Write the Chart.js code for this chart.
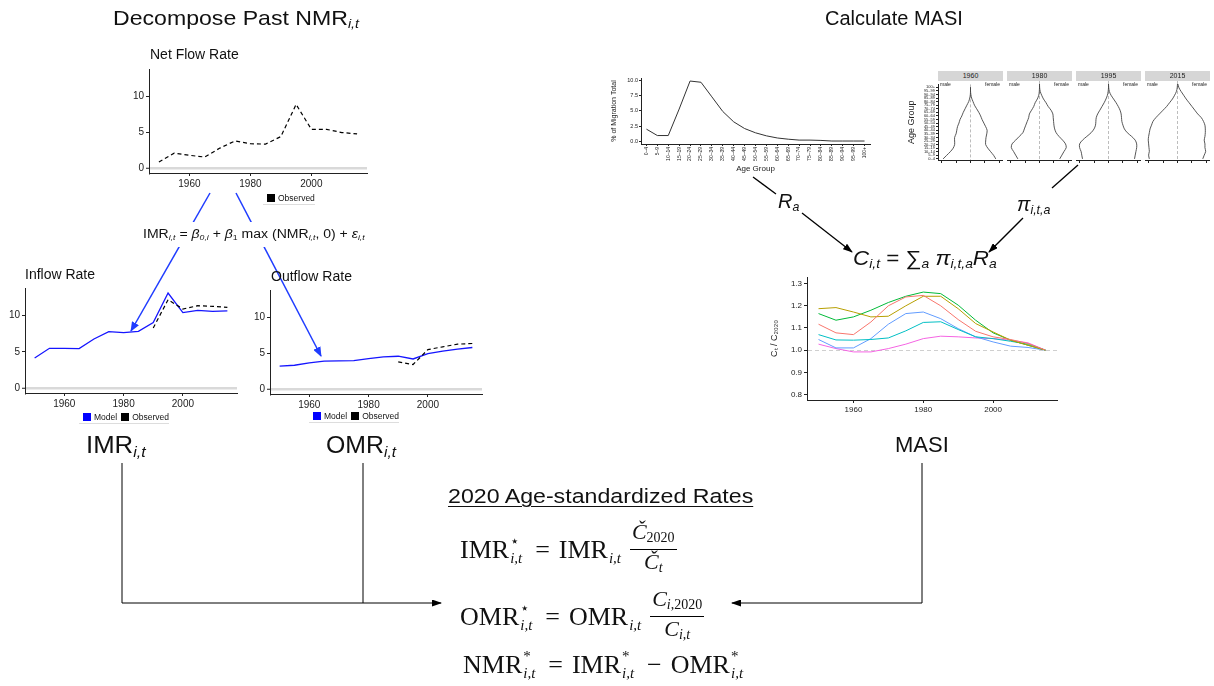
<!DOCTYPE html>
<html lang="en">
<head>
<meta charset="UTF-8">
<title>Age-standardized Migration Rates</title>
<script src="https://cdn.jsdelivr.net/npm/chart.js"></script>
<style>
  body { margin: 0; background: #fff; }
  #page { position: relative; width: 1214px; height: 686px; overflow: hidden; background: #fff;
          font-family: "Liberation Sans", Arial, sans-serif; color: #111; }
  canvas { position: absolute; }
  .t { position: absolute; white-space: nowrap; line-height: 1; transform-origin: 0 50%; }
  .t sub, .ce sub { font-size: 0.62em; font-style: italic; vertical-align: -0.25em; line-height: 0; }
  .lg { position: absolute; font-size: 8.5px; line-height: 10px; white-space: nowrap; border-bottom: 1px solid #ddd; padding-bottom: 1px; }
  .sq { display: inline-block; width: 8px; height: 8px; vertical-align: -1px; margin: 0 3px 0 4px; }
  .strip { position: absolute; background: #d6d6d6; font-size: 7px; line-height: 10px; text-align: center; color: #222; }
  .sex { position: absolute; font-size: 5px; line-height: 5px; color: #222; }
  .ce { position: absolute; white-space: nowrap; font-size: 20px; line-height: 1; transform-origin: 0 50%; }
  .eq { position: absolute; display: flex; align-items: center; white-space: nowrap;
        font-family: "Liberation Serif", "Times New Roman", serif; font-size: 26px; line-height: 1; }
  .ss { display: inline-block; position: relative; width: 20px; height: 26px; font-size: 15px; font-style: italic; }
  .ss .up { position: absolute; left: 1px; top: -3px; font-style: normal; }
  .ss .dn { position: absolute; left: 1px; top: 14px; }
  .op { margin: 0 9px 0 6px; }
  .frac { display: inline-flex; flex-direction: column; align-items: center; font-size: 22px; margin-left: 2px; }
  .frac > span { line-height: 23px; padding: 0 2px; }
  .frac > span:first-child { border-bottom: 1px solid #000; }
  .lo { font-size: 14px; vertical-align: -3px; }
  #eqbox { position: absolute; left: 138px; top: 222px; width: 236px; height: 25px; background: #fff; }
</style>
</head>
<body>
<div id="page">
  <canvas id="netChart"></canvas>
  <canvas id="inChart"></canvas>
  <canvas id="outChart"></canvas>
  <canvas id="ageChart"></canvas>
  <canvas id="pyr0"></canvas>
  <canvas id="pyr1"></canvas>
  <canvas id="pyr2"></canvas>
  <canvas id="pyr3"></canvas>
  <canvas id="masiChart"></canvas>

  <svg width="1214" height="686" style="position:absolute;left:0;top:0">
    <defs>
      <marker id="hb" markerWidth="10" markerHeight="8" refX="9" refY="4" orient="auto" markerUnits="userSpaceOnUse">
        <path d="M0,0 L10,4 L0,8 z" fill="#1f3cff"/>
      </marker>
      <marker id="hk" markerWidth="10" markerHeight="7" refX="9" refY="3.5" orient="auto" markerUnits="userSpaceOnUse">
        <path d="M0,0 L10,3.5 L0,7 z" fill="#000"/>
      </marker>
    </defs>
    <line x1="210" y1="193" x2="131" y2="331" stroke="#1f3cff" stroke-width="1.5" marker-end="url(#hb)"/>
    <line x1="236" y1="193" x2="321" y2="356" stroke="#1f3cff" stroke-width="1.5" marker-end="url(#hb)"/>
    <line x1="753" y1="177" x2="776" y2="194" stroke="#000" stroke-width="1.3"/>
    <line x1="802" y1="213" x2="852" y2="252" stroke="#000" stroke-width="1.3" marker-end="url(#hk)"/>
    <line x1="1078" y1="165" x2="1052" y2="188" stroke="#000" stroke-width="1.3"/>
    <line x1="1023" y1="218" x2="989" y2="252" stroke="#000" stroke-width="1.3" marker-end="url(#hk)"/>
    <path d="M122,463 V603 H441" fill="none" stroke="#000" stroke-width="1" marker-end="url(#hk)"/>
    <path d="M363,463 V603" fill="none" stroke="#000" stroke-width="1"/>
    <path d="M922,463 V603 H732" fill="none" stroke="#000" stroke-width="1" marker-end="url(#hk)"/>
  </svg>

  <div class="t" style="left:113px;top:7px;font-size:21px;transform:scaleX(1.1)">Decompose Past NMR<sub>i,t</sub></div>
  <div class="t" style="left:825px;top:8px;font-size:20px">Calculate MASI</div>

  <div class="t" style="left:150px;top:47px;font-size:14px">Net Flow Rate</div>
  <div class="t" style="left:25px;top:267px;font-size:14px">Inflow Rate</div>
  <div class="t" style="left:271px;top:269px;font-size:14px">Outflow Rate</div>

  <div class="lg" style="left:263px;top:193px"><span class="sq" style="background:#000"></span>Observed</div>
  <div class="lg" style="left:79px;top:412px"><span class="sq" style="background:#0000ff"></span>Model<span class="sq" style="background:#000"></span>Observed</div>
  <div class="lg" style="left:309px;top:411px"><span class="sq" style="background:#0000ff"></span>Model<span class="sq" style="background:#000"></span>Observed</div>

  <div id="eqbox"></div>
  <div class="t" style="left:143px;top:228px;font-size:12px;transform:scaleX(1.17)">IMR<sub>i,t</sub> = <i>β</i><sub>0,i</sub> + <i>β</i><sub style="font-style:normal">1</sub> max (NMR<sub>i,t</sub>, 0) + <i>ε</i><sub>i,t</sub></div>

  <div class="t" style="left:86px;top:434px;font-size:23px;transform:scaleX(1.12)">IMR<sub>i,t</sub></div>
  <div class="t" style="left:326px;top:434px;font-size:23px;transform:scaleX(1.08)">OMR<sub>i,t</sub></div>
  <div class="t" style="left:895px;top:434px;font-size:22px">MASI</div>

  <div class="strip" style="left:938px;top:71px;width:65px">1960</div>
  <div class="strip" style="left:1007px;top:71px;width:65px">1980</div>
  <div class="strip" style="left:1076px;top:71px;width:65px">1995</div>
  <div class="strip" style="left:1145px;top:71px;width:65px">2015</div>
  <div class="sex" style="left:940px;top:82px">male</div><div class="sex" style="left:985px;top:82px">female</div>
  <div class="sex" style="left:1009px;top:82px">male</div><div class="sex" style="left:1054px;top:82px">female</div>
  <div class="sex" style="left:1078px;top:82px">male</div><div class="sex" style="left:1123px;top:82px">female</div>
  <div class="sex" style="left:1147px;top:82px">male</div><div class="sex" style="left:1192px;top:82px">female</div>

  <div class="ce" style="left:778px;top:191px"><i>R</i><sub>a</sub></div>
  <div class="ce" style="left:1017px;top:194px"><i>π</i><sub>i,t,a</sub></div>
  <div class="ce" style="left:853px;top:248px;transform:scaleX(1.12)"><i>C</i><sub>i,t</sub> = ∑<sub>a</sub> <i>π</i><sub>i,t,a</sub><i>R</i><sub>a</sub></div>

  <div class="t" style="left:448px;top:486px;font-size:20.5px;transform:scaleX(1.13);text-decoration:underline;text-underline-offset:3px;text-decoration-thickness:1px">2020 Age-standardized Rates</div>

  <div class="eq" style="left:460px;top:520px">
    <span>IMR</span><span class="ss"><span class="up">⋆</span><span class="dn">i,t</span></span>
    <span class="op">=</span>
    <span>IMR</span><span class="ss"><span class="dn">i,t</span></span>
    <span class="frac"><span><i>Č</i><span class="lo">2020</span></span><span><i>Č</i><span class="lo"><i>t</i></span></span></span>
  </div>
  <div class="eq" style="left:460px;top:587px">
    <span>OMR</span><span class="ss"><span class="up">⋆</span><span class="dn">i,t</span></span>
    <span class="op">=</span>
    <span>OMR</span><span class="ss"><span class="dn">i,t</span></span>
    <span class="frac"><span><i>C</i><span class="lo"><i>i</i>,2020</span></span><span><i>C</i><span class="lo"><i>i,t</i></span></span></span>
  </div>
  <div class="eq" style="left:463px;top:652px">
    <span>NMR</span><span class="ss"><span class="up">*</span><span class="dn">i,t</span></span>
    <span class="op">=</span>
    <span>IMR</span><span class="ss"><span class="up">*</span><span class="dn">i,t</span></span>
    <span class="op">−</span>
    <span>OMR</span><span class="ss"><span class="up">*</span><span class="dn">i,t</span></span>
  </div>
</div>

<script>
// ---- data ----
const years = [1950, 1955, 1960, 1965, 1970, 1975, 1980, 1985, 1990, 1995, 2000, 2005, 2010, 2015];
const yearTicks = [1960, 1980, 2000];
const rateTicks = [0, 5, 10];

const netObserved = [0.87, 2.1, 1.8, 1.56, 2.8, 3.8, 3.4, 3.35, 4.4, 8.85, 5.4, 5.4, 4.95, 4.77];
const inflowModel = [4.15, 5.48, 5.48, 5.43, 6.76, 7.76, 7.63, 7.8, 9.0, 13.06, 10.37, 10.68, 10.55, 10.6];
const inflowObserved = [null, null, null, null, null, null, null, null, 8.26, 12.15, 10.87, 11.32, 11.23, 11.1];
const outflowModel = [3.2, 3.33, 3.66, 3.9, 3.93, 3.98, 4.26, 4.5, 4.58, 4.2, 4.95, 5.28, 5.55, 5.79];
const outflowObserved = [null, null, null, null, null, null, null, null, 3.8, 3.43, 5.5, 5.88, 6.25, 6.34];

const ageGroups = ['0–4', '5–9', '10–14', '15–19', '20–24', '25–29', '30–34', '35–39', '40–44', '45–49', '50–54',
                   '55–59', '60–64', '65–69', '70–74', '75–79', '80–84', '85–89', '90–94', '95–99', '100+'];
const migrationShare = [2.0, 0.95, 0.95, 5.3, 9.9, 9.7, 7.3, 4.9, 3.2, 2.1, 1.4, 0.9, 0.55, 0.35, 0.2, 0.2, 0.15, 0.05, 0.05, 0.05, 0.05];
const shareTicks = [0, 2.5, 5, 7.5, 10];

const pyramidYears = ['1960', '1980', '1995', '2015'];
const male1960 = [3.8, 3.3, 2.8, 2.4, 2.2, 2.2, 2.2, 2.0, 1.9, 1.8, 1.6, 1.45, 1.2, 1.0, 0.75, 0.5, 0.25, 0.1, 0.02, 0, 0];
const female1960 = [3.5, 3.2, 2.8, 2.4, 2.1, 2.1, 2.15, 2.25, 2.3, 2.1, 1.85, 1.6, 1.4, 1.15, 0.85, 0.55, 0.35, 0.15, 0.05, 0, 0];
const male1980 = [3.0, 3.3, 3.6, 3.9, 3.8, 3.3, 2.8, 2.3, 2.1, 1.9, 1.7, 1.5, 1.4, 1.1, 0.8, 0.6, 0.3, 0.1, 0.03, 0, 0];
const female1980 = [2.8, 3.1, 3.4, 3.7, 3.6, 3.2, 2.7, 2.3, 2.1, 2.0, 1.95, 1.9, 1.85, 1.6, 1.2, 0.9, 0.55, 0.3, 0.1, 0.02, 0];
const male1995 = [3.6, 3.7, 3.8, 4.0, 4.0, 3.6, 3.0, 2.4, 2.0, 1.8, 1.75, 1.7, 1.5, 1.2, 0.9, 0.6, 0.35, 0.15, 0.05, 0, 0];
const female1995 = [3.6, 3.7, 3.8, 3.9, 3.9, 3.7, 3.2, 2.6, 2.2, 2.0, 1.85, 1.8, 1.75, 1.6, 1.35, 1.05, 0.7, 0.35, 0.12, 0.03, 0];
const male2015 = [3.9, 4.0, 3.9, 3.95, 4.0, 4.05, 4.0, 3.9, 3.8, 3.6, 3.4, 3.0, 2.5, 2.0, 1.5, 1.1, 0.7, 0.4, 0.15, 0.04, 0];
const female2015 = [3.5, 3.7, 3.9, 3.8, 3.8, 3.7, 3.8, 3.85, 3.85, 3.8, 3.6, 3.3, 2.8, 2.4, 2.0, 1.6, 1.2, 0.85, 0.5, 0.2, 0.05];
const pyramidTicks = [-4, -2, 0, 2, 4];

const masiRed = [1.117, 1.078, 1.07, 1.127, 1.2, 1.24, 1.247, 1.2, 1.138, 1.085, 1.06, 1.048, 1.03, 1.0];
const masiOlive = [1.187, 1.192, 1.172, 1.15, 1.153, 1.2, 1.243, 1.243, 1.187, 1.12, 1.082, 1.045, 1.022, 1.0];
const masiGreen = [1.165, 1.135, 1.15, 1.18, 1.215, 1.243, 1.262, 1.255, 1.203, 1.135, 1.078, 1.045, 1.022, 1.0];
const masiCyan = [1.07, 1.046, 1.045, 1.048, 1.055, 1.087, 1.125, 1.128, 1.093, 1.06, 1.052, 1.04, 1.027, 1.0];
const masiBlue = [1.048, 1.01, 1.01, 1.052, 1.117, 1.165, 1.172, 1.142, 1.097, 1.06, 1.037, 1.018, 1.012, 1.0];
const masiPink = [1.027, 1.007, 0.992, 0.992, 1.007, 1.027, 1.052, 1.063, 1.06, 1.055, 1.052, 1.045, 1.033, 1.0];
const masiTicks = [0.8, 0.9, 1.0, 1.1, 1.2, 1.3];

// ---- helpers ----
Chart.defaults.font.family = '"Liberation Sans", Arial, sans-serif';
Chart.defaults.color = '#222';
Chart.defaults.plugins.legend.display = false;
Chart.defaults.plugins.tooltip.enabled = false;
Chart.defaults.animation = false;

const INK = '#222';

// plot = inner plot rectangle in page px, pad = room for axes (l, b) and margins (t, r)
function makeChart(id, plot, pad, config) {
  const c = document.getElementById(id);
  const w = plot.r - plot.l + pad.l + pad.r;
  const h = plot.b - plot.t + pad.t + pad.b;
  c.style.left = (plot.l - pad.l) + 'px';
  c.style.top = (plot.t - pad.t) + 'px';
  c.style.width = w + 'px';
  c.style.height = h + 'px';
  c.width = w;
  c.height = h;
  const o = config.options;
  o.responsive = false;
  o.layout = { padding: { top: pad.t, right: pad.r, left: 0, bottom: 0 } };
  o.scales.x.afterFit = s => { s.height = pad.b; };
  o.scales.y.afterFit = s => { s.width = pad.l; };
  return new Chart(c, config);
}

function fixedTicks(values) {
  return s => { s.ticks = values.map(v => ({ value: v })); };
}

function axis(extra) {
  return Object.assign({
    border: { display: true, color: INK, width: 1 },
    grid: { display: true, drawOnChartArea: false, drawTicks: true, tickLength: 3, tickColor: INK, tickWidth: 1 },
    ticks: { color: INK, padding: 2, font: { size: 10 } }
  }, extra);
}

// y axis with a light grey reference line at 0
function rateAxis() {
  return axis({
    type: 'linear', min: -0.65, max: 13.75,
    afterBuildTicks: fixedTicks(rateTicks),
    grid: {
      display: true, drawOnChartArea: true, drawTicks: true, tickLength: 3, tickColor: INK, tickWidth: 1,
      color: ctx => (ctx.tick && ctx.tick.value === 0) ? '#d9d9d9' : 'rgba(0,0,0,0)',
      lineWidth: ctx => (ctx.tick && ctx.tick.value === 0) ? 2.5 : 1
    }
  });
}

function yearAxis() {
  return axis({
    type: 'linear', min: 1946.75, max: 2018.25,
    afterBuildTicks: fixedTicks(yearTicks),
    ticks: { color: INK, padding: 2, font: { size: 10 }, callback: v => String(v) }
  });
}

const observedStyle = { borderColor: '#000', borderWidth: 1.2, borderDash: [4, 3], pointRadius: 0, fill: false, tension: 0 };
const modelStyle = { borderColor: '#1515ff', borderWidth: 1.3, pointRadius: 0, fill: false, tension: 0 };

// ---- Net / Inflow / Outflow ----
makeChart('netChart', { l: 149, t: 69, r: 367, b: 173 }, { l: 22, b: 16, t: 10, r: 4 }, {
  type: 'line',
  data: { labels: years, datasets: [Object.assign({ label: 'Observed', data: netObserved }, observedStyle)] },
  options: { scales: { x: yearAxis(), y: rateAxis() } }
});

makeChart('inChart', { l: 25, t: 288, r: 237, b: 393 }, { l: 22, b: 16, t: 10, r: 4 }, {
  type: 'line',
  data: {
    labels: years,
    datasets: [
      Object.assign({ label: 'Observed', data: inflowObserved }, observedStyle),
      Object.assign({ label: 'Model', data: inflowModel }, modelStyle)
    ]
  },
  options: { scales: { x: yearAxis(), y: rateAxis() } }
});

makeChart('outChart', { l: 270, t: 290, r: 482, b: 394 }, { l: 22, b: 16, t: 10, r: 4 }, {
  type: 'line',
  data: {
    labels: years,
    datasets: [
      Object.assign({ label: 'Observed', data: outflowObserved }, observedStyle),
      Object.assign({ label: 'Model', data: outflowModel }, modelStyle)
    ]
  },
  options: { scales: { x: yearAxis(), y: rateAxis() } }
});

// ---- migration age profile (R_a) ----
makeChart('ageChart', { l: 641, t: 78, r: 870, b: 144 }, { l: 32, b: 30, t: 8, r: 4 }, {
  type: 'line',
  data: { labels: ageGroups, datasets: [{ data: migrationShare, borderColor: '#333', borderWidth: 1, pointRadius: 0, tension: 0 }] },
  options: {
    scales: {
      x: axis({
        type: 'category', offset: true,
        grid: { display: true, offset: false, drawOnChartArea: false, drawTicks: true, tickLength: 2, tickColor: INK },
        ticks: { color: INK, padding: 1, font: { size: 5 }, minRotation: 90, maxRotation: 90, autoSkip: false },
        title: { display: true, text: 'Age Group', color: INK, font: { size: 8 }, padding: 0 }
      }),
      y: axis({
        type: 'linear', min: -0.44, max: 10.4,
        afterBuildTicks: fixedTicks(shareTicks),
        grid: { display: true, drawOnChartArea: false, drawTicks: true, tickLength: 2, tickColor: INK },
        ticks: { color: INK, padding: 1, font: { size: 5.5 }, callback: v => v.toFixed(1) },
        title: { display: true, text: '% of Migration Total', color: INK, font: { size: 7 }, padding: 1 }
      })
    }
  }
});

// ---- population pyramids (pi_{i,t,a}) ----
const pyramidData = [[male1960, female1960], [male1980, female1980], [male1995, female1995], [male2015, female2015]];
const pyramidPlots = [
  { l: 938, t: 81, r: 1003, b: 160 },
  { l: 1007, t: 81, r: 1072, b: 160 },
  { l: 1076, t: 81, r: 1141, b: 160 },
  { l: 1145, t: 81, r: 1210, b: 160 }
];

pyramidData.forEach(([male, female], k) => {
  const first = k === 0;
  makeChart('pyr' + k, pyramidPlots[k], { l: first ? 32 : 0, b: 4, t: 0, r: 0 }, {
    type: 'scatter',
    data: {
      datasets: [
        { label: 'male ' + pyramidYears[k], data: male.map((v, i) => ({ x: -v, y: i })) },
        { label: 'female ' + pyramidYears[k], data: female.map((v, i) => ({ x: v, y: i })) }
      ].map(d => Object.assign(d, { showLine: true, borderColor: '#444', borderWidth: 0.9, pointRadius: 0, tension: 0.3 }))
    },
    options: {
      scales: {
        x: axis({
          type: 'linear', min: -4.5, max: 4.5,
          afterBuildTicks: fixedTicks(pyramidTicks),
          border: { display: true, color: INK, width: 1, dash: [3, 2] },
          grid: {
            display: true, drawOnChartArea: true, drawTicks: true, tickLength: 3, tickColor: INK, tickWidth: 1,
            color: ctx => (ctx.tick && ctx.tick.value === 0) ? '#bdbdbd' : 'rgba(0,0,0,0)'
          },
          ticks: { display: false }
        }),
        y: axis({
          display: first,
          type: 'linear', min: -0.3, max: 20.8,
          afterBuildTicks: fixedTicks(ageGroups.map((g, i) => i)),
          grid: { display: true, drawOnChartArea: false, drawTicks: true, tickLength: 2, tickColor: INK },
          ticks: { color: INK, padding: 1, autoSkip: false, font: { size: 4 }, callback: v => ageGroups[v] },
          title: { display: first, text: 'Age Group', color: INK, font: { size: 9 }, padding: 0 }
        })
      }
    }
  });
});

// ---- MASI, C_t / C_2020 ----
const masiSeries = [
  { data: masiRed, color: '#F8766D' },
  { data: masiOlive, color: '#B79F00' },
  { data: masiGreen, color: '#00BA38' },
  { data: masiCyan, color: '#00BFC4' },
  { data: masiBlue, color: '#619CFF' },
  { data: masiPink, color: '#F564E3' }
];

makeChart('masiChart', { l: 807, t: 277, r: 1057, b: 400 }, { l: 40, b: 16, t: 8, r: 2 }, {
  type: 'line',
  data: {
    labels: years,
    datasets: masiSeries.map(s => ({ data: s.data, borderColor: s.color, borderWidth: 1, pointRadius: 0, tension: 0 }))
  },
  options: {
    scales: {
      x: axis({
        type: 'linear', min: 1946.7, max: 2018.3,
        afterBuildTicks: fixedTicks(yearTicks),
        ticks: { color: INK, padding: 2, font: { size: 8 }, callback: v => String(v) }
      }),
      y: axis({
        type: 'linear', min: 0.775, max: 1.33,
        afterBuildTicks: fixedTicks(masiTicks),
        border: { display: true, color: INK, width: 1, dash: [4, 3] },
        grid: {
          display: true, drawOnChartArea: true, drawTicks: true, tickLength: 3, tickColor: INK, tickWidth: 1,
          color: ctx => (ctx.tick && Math.abs(ctx.tick.value - 1) < 1e-6) ? '#cfcfcf' : 'rgba(0,0,0,0)'
        },
        ticks: { color: INK, padding: 2, font: { size: 8 }, callback: v => v.toFixed(1) },
        title: { display: true, text: 'Cₜ / C₂₀₂₀', color: INK, font: { size: 9 }, padding: 2 }
      })
    }
  }
});
</script>
</body>
</html>
